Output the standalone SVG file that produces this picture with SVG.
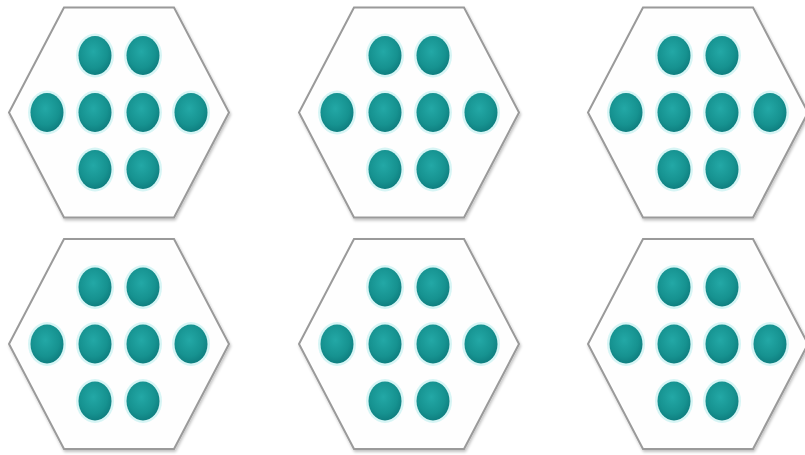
<svg xmlns="http://www.w3.org/2000/svg" xmlns:xlink="http://www.w3.org/1999/xlink" width="805" height="455" viewBox="0 0 805 455">
  <defs>
    <radialGradient id="ballGrad" cx="45%" cy="40%" r="60%">
      <stop offset="0" stop-color="#23a8a6"/>
      <stop offset="0.7" stop-color="#169290"/>
      <stop offset="1" stop-color="#0f7f80"/>
    </radialGradient>
    <filter id="shadow" x="-10%" y="-10%" width="120%" height="120%">
      <feGaussianBlur in="SourceAlpha" stdDeviation="1.5"/>
      <feOffset dx="1" dy="2"/>
      <feComponentTransfer><feFuncA type="linear" slope="0.25"/></feComponentTransfer>
      <feMerge><feMergeNode/><feMergeNode in="SourceGraphic"/></feMerge>
    </filter>
    <polygon id="hex" points="-55,-105 55,-105 110,0 55,105 -55,105 -110,0"/>
    <g id="ball">
      <ellipse rx="19" ry="22" fill="#cdf3f3" opacity="0.8"/>
      <ellipse rx="16.5" ry="19.5" fill="url(#ballGrad)"/>
    </g>
    <g id="cluster">
      <use xlink:href="#hex" class="hex"/>
      <use xlink:href="#ball" x="-24" y="-57"/>
      <use xlink:href="#ball" x="24" y="-57"/>
      <use xlink:href="#ball" x="-72" y="0"/>
      <use xlink:href="#ball" x="-24" y="0"/>
      <use xlink:href="#ball" x="24" y="0"/>
      <use xlink:href="#ball" x="72" y="0"/>
      <use xlink:href="#ball" x="-24" y="57"/>
      <use xlink:href="#ball" x="24" y="57"/>
    </g>
  </defs>
  <style>
    .hex { fill: #fefefe; stroke: #9a9a9a; stroke-width: 2; filter: url(#shadow); }
  </style>
  <rect width="805" height="455" fill="#ffffff"/>
  <g id="hex1" transform="translate(119,112.5)"><use xlink:href="#cluster"/></g>
  <g id="hex2" transform="translate(409,112.5)"><use xlink:href="#cluster"/></g>
  <g id="hex3" transform="translate(698,112.5)"><use xlink:href="#cluster"/></g>
  <g id="hex4" transform="translate(119,344)"><use xlink:href="#cluster"/></g>
  <g id="hex5" transform="translate(409,344)"><use xlink:href="#cluster"/></g>
  <g id="hex6" transform="translate(698,344)"><use xlink:href="#cluster"/></g>
  <g id="connectors"/>
</svg>
